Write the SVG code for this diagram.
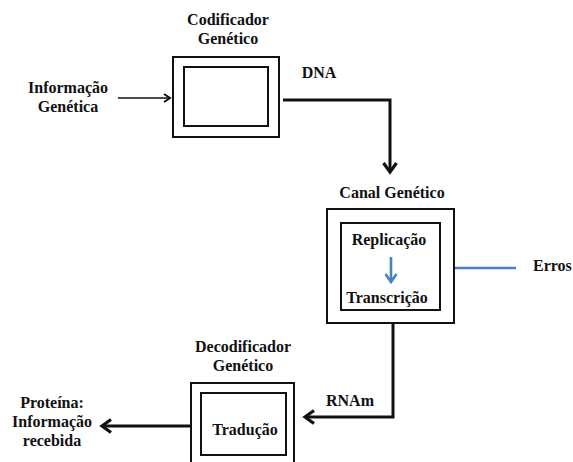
<svg xmlns="http://www.w3.org/2000/svg" width="573" height="462" viewBox="0 0 573 462" font-family="Liberation Serif, serif">
<style>
text{font-weight:bold;font-size:16px;fill:#111;text-anchor:middle}
.box{fill:#fff;stroke:#111;stroke-width:2}
.thick{fill:none;stroke:#111;stroke-width:3}
</style>
<defs>
<marker id="ah" markerWidth="10" markerHeight="10" refX="7" refY="5" orient="auto" markerUnits="userSpaceOnUse" viewBox="0 0 10 10"><path d="M1,1 L7,5 L1,9" fill="none" stroke="#111" stroke-width="2"/></marker>
<marker id="ahb" markerWidth="16" markerHeight="16" refX="11" refY="8" orient="auto" markerUnits="userSpaceOnUse" viewBox="0 0 16 16"><path d="M2,1.5 L11,8 L2,14.5" fill="none" stroke="#111" stroke-width="3.2"/></marker>
<marker id="ahblue" markerWidth="14" markerHeight="14" refX="10" refY="7" orient="auto" markerUnits="userSpaceOnUse" viewBox="0 0 14 14"><path d="M2,1.5 L10,7 L2,12.5" fill="none" stroke="#4a7fc1" stroke-width="2.6"/></marker>
</defs>
<g id="connectors">
<line x1="118" y1="98" x2="170" y2="98" stroke="#111" stroke-width="1.6" marker-end="url(#ah)"/>
<polyline class="thick" points="283,100 390,100 390,172" marker-end="url(#ahb)"/>
<line x1="455" y1="268" x2="516" y2="268" stroke="#4a7fc1" stroke-width="2.4"/>
<polyline class="thick" points="393,323 393,417 305,417" marker-end="url(#ahb)"/>
<line x1="191" y1="426" x2="102" y2="426" class="thick" marker-end="url(#ahb)"/>
</g>
<g id="info">
<text x="68" y="93">Informação</text>
<text x="68" y="112">Genética</text>
</g>
<g id="codificador">
<text x="228" y="25">Codificador</text>
<text x="228" y="44">Genético</text>
<rect class="box" x="173" y="57" width="106" height="80"/>
<rect class="box" x="184" y="67" width="84" height="59"/>
</g>
<g id="dna"><text x="319" y="78">DNA</text></g>
<g id="canal">
<text x="392" y="198">Canal Genético</text>
<rect class="box" x="327" y="209" width="127" height="114"/>
<rect class="box" x="341" y="223" width="99" height="87"/>
<text x="389" y="245">Replicação</text>
<line x1="391" y1="257" x2="391" y2="282" stroke="#4a7fc1" stroke-width="2.6" marker-end="url(#ahblue)"/>
<text x="387" y="303">Transcrição</text>
</g>
<g id="erros"><text x="533" y="271" style="text-anchor:start">Erros</text></g>
<g id="rnam"><text x="350" y="406">RNAm</text></g>
<g id="decodificador">
<text x="243" y="352">Decodificador</text>
<text x="243" y="371">Genético</text>
<rect class="box" x="191" y="383" width="103" height="90"/>
<rect class="box" x="201" y="393" width="85" height="62"/>
<text x="245" y="435">Tradução</text>
</g>
<g id="proteina">
<text x="52" y="408">Proteína:</text>
<text x="52" y="427">Informação</text>
<text x="52" y="446">recebida</text>
</g>
</svg>
